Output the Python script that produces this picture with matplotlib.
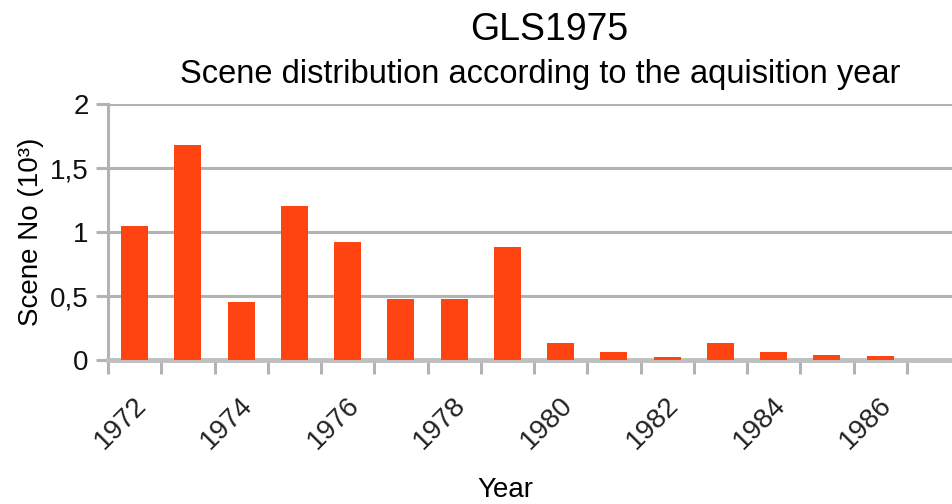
import numpy as np
import matplotlib
matplotlib.use('Agg')
import matplotlib.pyplot as plt
from matplotlib.transforms import ScaledTranslation
from matplotlib.ticker import FuncFormatter

plt.rcParams['font.family'] = ['Liberation Sans', 'DejaVu Sans']

# Data: scenes per acquisition year (in thousands)
years = [1972, 1973, 1974, 1975, 1976, 1977, 1978, 1979,
         1980, 1981, 1982, 1983, 1984, 1985, 1986, 1987]
scenes = [1.05, 1.68, 0.45, 1.20, 0.92, 0.48, 0.48, 0.88,
          0.13, 0.06, 0.02, 0.13, 0.06, 0.04, 0.03, 0.0]
tick_years = [1972, 1974, 1976, 1978, 1980, 1982, 1984, 1986]

grey = '#b3b3b3'
bar_col = '#ff4411'

fig = plt.figure(figsize=(9.52, 5.04), dpi=100)
ax = fig.add_axes([108 / 952, 1 - 360 / 504, (960 - 108) / 952, 256 / 504])

x = np.arange(len(years))
ax.bar(x, scenes, width=0.51, color=bar_col, zorder=3)

ax.set_xlim(-0.5, len(years) - 0.5)
ax.set_ylim(0, 2)
ax.set_yticks([0, 0.5, 1, 1.5, 2])
ax.yaxis.set_major_formatter(FuncFormatter(lambda v, p: f'{v:g}'.replace('.', ',')))
ax.grid(axis='y', color=grey, linewidth=2.2, zorder=0)
ax.set_axisbelow(True)

# labels under every other bar, tick marks at category edges
ax.set_xticks([years.index(y) for y in tick_years])
ax.set_xticklabels([str(y) for y in tick_years], rotation=45, ha='center', va='top')
ax.set_xticks(np.arange(-0.5, len(years), 1.0), minor=True)
ax.tick_params(axis='x', which='major', length=0, pad=23, labelsize=20, labelcolor='#222222')
ax.tick_params(axis='x', which='minor', length=10, width=2.2, color=grey, direction='out')
ax.tick_params(axis='y', length=9, width=2.2, color=grey, labelsize=20, pad=5, labelcolor='#111111')
shift = ScaledTranslation(-14 / 100, 0, fig.dpi_scale_trans)
for lab in ax.get_xticklabels():
    lab.set_transform(lab.get_transform() + shift)

for s in ['top', 'right']:
    ax.spines[s].set_visible(False)
ax.spines['left'].set_color(grey)
ax.spines['left'].set_linewidth(2.2)
ax.spines['bottom'].set_color('#bfbfbf')
ax.spines['bottom'].set_linewidth(3.5)

ax.set_ylabel('Scene No (10³)', fontsize=20, labelpad=4)

fig.text(549 / 952, 1 - 30 / 504, 'GLS1975', ha='center', va='center', fontsize=27)
fig.text(540 / 952, 1 - 74 / 504, 'Scene distribution according to the aquisition year',
         ha='center', va='center', fontsize=23.5)
fig.text(505 / 952, 1 - 490 / 504, 'Year', ha='center', va='center', fontsize=20)

fig.savefig('out.png', dpi=100)
